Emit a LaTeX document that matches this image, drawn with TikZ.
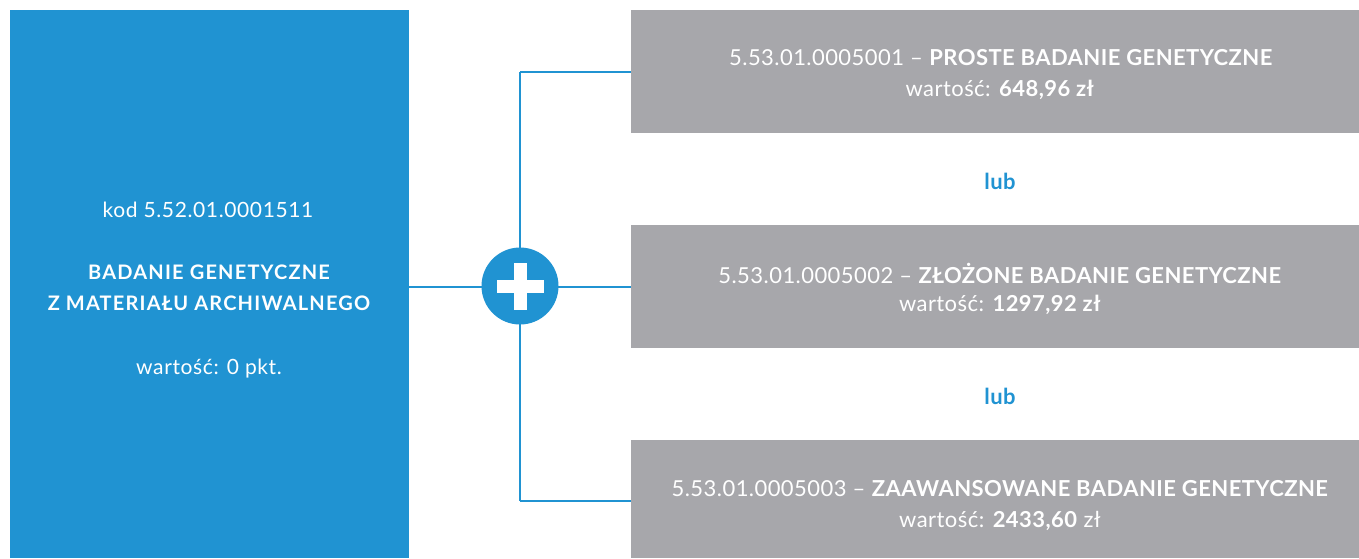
\documentclass[tikz,border=0pt]{standalone}
\usepackage{fontspec}
\setmainfont{Lato}
\newfontfamily\kodfont[LetterSpace=3]{Lato}
\newfontfamily\capfont[LetterSpace=6]{Lato}
\newfontfamily\condfont[LetterSpace=2]{Lato}
\definecolor{mblue}{HTML}{2093D2}
\definecolor{mgray}{HTML}{A7A7AB}
\begin{document}
\begin{tikzpicture}[x=1pt,y=-1pt,
  bluebox/.style={fill=mblue,draw=none,anchor=north west,inner sep=0pt},
  graybox/.style={fill=mgray,draw=none,anchor=north west,inner sep=0pt,minimum width=728pt,minimum height=123pt},
  wtext/.style={text=white,font=\kodfont\fontsize{21}{24}\selectfont,inner sep=0pt,anchor=center},
  btext/.style={text=white,font=\capfont\bfseries\fontsize{20}{24}\selectfont,inner sep=0pt,anchor=center},
  ctext/.style={text=white,font=\condfont\fontsize{22}{26}\selectfont,inner sep=0pt,anchor=center},
  lubtext/.style={text=mblue,font=\condfont\bfseries\fontsize{22}{26}\selectfont,inner sep=0pt},
  conn/.style={draw=mblue,line width=2pt},
  plusc/.style={circle,fill=mblue,minimum size=77pt,inner sep=0pt}]
\useasboundingbox (0,0) rectangle (1359,558);
\fill[white] (0,0) rectangle (1359,558);
% left box
\node[bluebox,minimum width=399pt,minimum height=548pt] (L) at (10,10) {};
\node[wtext] (Lk) at (208,210) {kod 5.52.01.0001511};
\node[btext] (Lt1) at (209,272) {BADANIE GENETYCZNE};
\node[btext] (Lt2) at (209,303) {Z MATERIAŁU ARCHIWALNEGO};
\node[wtext] (Lw) at (209,369) {wartość: 0 pkt.};
% gray boxes
\node[graybox] (G1) at (631,10) {};
\node[graybox] (G2) at (631,225) {};
\node[graybox,minimum height=118pt] (G3) at (631,440) {};
\node[ctext] (G1a) at (1001,58) {5.53.01.0005001 – \textbf{PROSTE BADANIE GENETYCZNE}};
\node[ctext] (G1b) at (1000,90) {wartość: \textbf{648,96 zł}};
\node[ctext] (G2a) at (1000,273) {5.53.01.0005002 – \textbf{ZŁOŻONE BADANIE GENETYCZNE}};
\node[ctext] (G2b) at (1000,305) {wartość: \textbf{1297,92 zł}};
\node[ctext] (G3a) at (1000,489) {5.53.01.0005003 – \textbf{ZAAWANSOWANE BADANIE GENETYCZNE}};
\node[ctext] (G3b) at (1000,521) {wartość: \textbf{2433,60} zł};
\node[lubtext] (lub1) at (1000,181) {lub};
\node[lubtext] (lub2) at (1000,396) {lub};
% connectors
\coordinate (T) at (520,72);
\coordinate (B) at (520,501);
\draw[conn] (L.east |- 0,287) -- (631,287);
\draw[conn] (T) -- (B);
\draw[conn] (T) -- (G1.west |- T);
\draw[conn] (B) -- (G3.west |- B);
% plus
\node[plusc] (P) at (520,286) {};
\fill[white] ([xshift=-23.5pt,yshift=-6.5pt]P.center) rectangle ([xshift=23.5pt,yshift=6.5pt]P.center);
\fill[white] ([xshift=-6.5pt,yshift=-23.5pt]P.center) rectangle ([xshift=6.5pt,yshift=23.5pt]P.center);
\end{tikzpicture}
\end{document}
